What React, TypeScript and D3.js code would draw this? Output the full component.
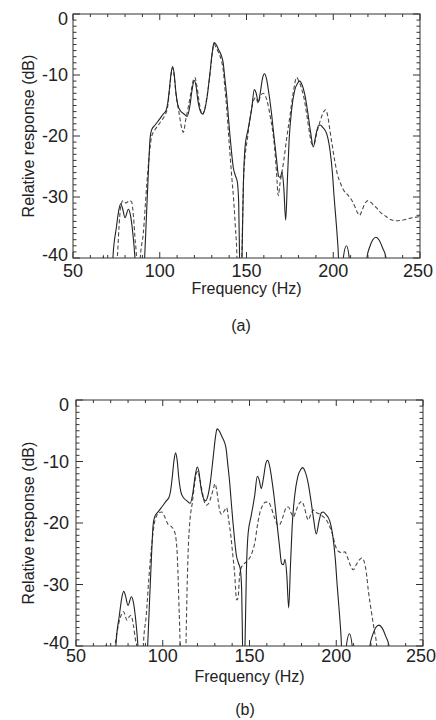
import React, { useEffect, useRef } from 'react';
import * as d3 from 'd3';

// solid curve (same measured response in both panels); -48 = below the -40 floor (clipped)
const solidFreq = [66, 67.5, 69, 72, 73, 75, 76.5, 77.5, 78.5, 80, 81.9, 83, 84.5, 85.7, 87, 90, 91.3, 92.5, 93.5, 94.4, 95.3, 97.3, 100, 102, 103.5, 104.5, 105.5, 106.5, 107.4, 108.3, 109.3, 110.5, 112, 114, 115.8, 117.3, 118.6, 119.9, 120.8, 122, 123.5, 124.7, 126, 127.5, 129, 130.3, 131.3, 132.5, 134, 135.5, 136.5, 137.5, 138.6, 139.6, 140.5, 141.5, 142.4, 143.6, 144.7, 145.5, 146, 146.4, 147, 147.4, 148.2, 149.2, 151, 153, 154.5, 155.5, 156.8, 158, 159.4, 160.4, 161.5, 163, 164.5, 166, 167.3, 168.5, 169.5, 170.5, 171.5, 172.6, 173.6, 174.6, 176, 177.8, 179.5, 180.6, 182, 183.8, 185.5, 187, 188.5, 190, 191.5, 192.5, 194, 196.2, 198.1, 199.5, 200.5, 201.5, 202.3, 203, 203.6, 205, 205.8, 207.6, 209.2, 209.8, 218.5, 219.4, 221, 222.8, 224.6, 226.5, 228.5, 230.4, 231, 250];
const solidDb = [-48, -39.5, -48, -48, -40, -35, -32, -31.1, -31.8, -33.4, -32.0, -32.8, -36, -40, -48, -48, -40, -32, -25.5, -20.5, -19.0, -18.2, -17.2, -16.4, -15.9, -14.8, -12.5, -9.8, -8.6, -9.8, -12.8, -15.0, -15.9, -16.4, -16.8, -15.2, -12.5, -10.9, -11.6, -14.2, -16.0, -16.4, -15.6, -13.2, -9.5, -6.2, -4.7, -5.0, -5.9, -6.8, -7.9, -10.5, -13.5, -17, -20, -23, -25.2, -26.5, -27.5, -31, -40, -48, -48, -40, -28, -21.7, -18.8, -15.5, -12.4, -12.9, -14.4, -12.8, -10.3, -9.8, -10.6, -13.2, -16.5, -20.5, -23.8, -26.6, -26.8, -25.9, -28.5, -33.8, -27, -20.5, -15.7, -12.5, -11.3, -11.0, -11.6, -13.5, -16.5, -19.5, -21.8, -19.8, -18.3, -18.2, -18.6, -19.6, -22.3, -26, -30, -33.5, -36.5, -40, -48, -48, -40, -38.0, -40, -48, -48, -40, -38.2, -37.0, -36.6, -37.1, -38.4, -40, -48, -48];

// dashed curve, panel (a)
const dashAFreq = [70, 75.5, 76.5, 77.5, 78.8, 80.5, 82.5, 83.8, 84.8, 85.8, 86.6, 87.2, 88, 88.8, 90.5, 92.5, 94, 95.4, 97, 99.2, 101, 103, 104.5, 105.5, 106.5, 107.4, 108.3, 109.5, 111, 112.5, 113.6, 115, 116.5, 118, 119.3, 120.3, 121.3, 122.8, 124.5, 126, 127.5, 129, 130.3, 131.3, 132.5, 134, 135.5, 136.5, 137.5, 138.6, 139.6, 140.5, 141.6, 142.6, 143.6, 144.5, 145, 146.6, 147.3, 148.2, 149.3, 150.5, 152, 153.8, 155.3, 156.8, 158, 159.7, 161, 162.5, 163.8, 165, 166.2, 167.3, 168.3, 169.4, 170.4, 171.5, 173, 175, 177, 178.9, 180, 181.5, 183, 185, 186.5, 187.8, 189, 190.5, 192.5, 194.5, 195.6, 196.8, 198.2, 199.5, 201, 202.5, 204, 206, 208.5, 210.6, 212.5, 214, 215.2, 216.6, 218, 220, 222.5, 225, 227.5, 230.5, 233, 236, 240, 244, 248, 250];
const dashADb = [-48, -40, -35, -31.5, -30.6, -31.0, -30.6, -30.8, -33, -37, -40, -48, -48, -40, -36, -28, -23, -20, -19.1, -18.2, -17.5, -16.6, -15.3, -12.8, -10, -8.8, -10.2, -13.5, -16, -18.5, -19.4, -17.3, -15.2, -12.8, -10.9, -10.4, -11.6, -14.6, -16.5, -15.5, -13, -9.8, -6.4, -4.9, -5.5, -6.4, -7.6, -9, -12, -15.5, -19.5, -23, -27, -30.5, -35, -40, -48, -48, -40, -28, -23, -20.5, -17.2, -14.4, -13.7, -14.6, -13.4, -13.0, -13.5, -15, -17, -19, -22, -26, -29.8, -27.6, -26, -24, -20.7, -16.8, -12.8, -10.4, -10.9, -12.0, -13.6, -17, -19.8, -21.4, -21.3, -19.5, -17.5, -16.0, -15.7, -16.7, -19.3, -21.7, -24.3, -26.4, -27.6, -28.9, -29.7, -30.5, -31.6, -32.6, -33.0, -32.2, -31.2, -30.6, -31.1, -31.8, -32.6, -33.2, -33.7, -33.9, -33.8, -33.5, -33.3, -33.2];

// dashed curve, panel (b)
const dashBFreq = [70, 72.5, 74.5, 76, 77.3, 78.3, 79.3, 80.5, 81.7, 83, 84.3, 85, 85.5, 88, 88.8, 90.5, 92, 93.5, 95, 96.5, 98, 99.4, 101, 103, 105, 106.5, 107.6, 108.5, 109.3, 110, 110.4, 113, 113.4, 114, 114.6, 115.7, 117, 118.3, 119.5, 120.3, 121.3, 122.8, 124, 125.3, 126.5, 128, 129.3, 130.1, 131, 132, 133, 134, 135.5, 136.8, 138, 139.2, 140.3, 141.3, 142.6, 143.4, 144.3, 145.5, 147, 149.3, 151.5, 153.2, 154.5, 156, 157.5, 159.2, 160.9, 162.5, 164.5, 166.6, 167.6, 169.5, 171.4, 172.5, 174, 175.3, 176.8, 178.5, 180.1, 181.5, 183, 183.9, 185.3, 186.8, 188.5, 190.5, 192.6, 194.5, 196.3, 198, 199.5, 201.2, 203, 205, 206.5, 208, 209.8, 211.5, 213.3, 214.7, 216, 217.3, 218.5, 220.4, 222, 223.3, 224, 250];
const dashBDb = [-48, -40, -36.5, -35, -34.4, -35, -35.8, -35.3, -35.0, -36.5, -39, -40, -48, -48, -40, -35, -29, -24, -20.3, -18.8, -18.3, -18.2, -18.9, -20.2, -20.6, -21.2, -22.5, -26, -33, -40, -48, -48, -40, -31, -25, -19.5, -16.8, -13.8, -11.8, -11.6, -12.8, -15, -16.6, -17.1, -16.8, -15.6, -14.3, -13.6, -14.5, -16.5, -18.2, -18.6, -18.0, -17.5, -19.5, -22, -25, -27.8, -32.5, -32.2, -28.5, -27.1, -26.6, -26.0, -24.8, -23, -20.5, -18.3, -17.2, -16.6, -16.6, -17.5, -19.2, -20.4, -20.2, -18.8, -17.4, -17.4, -18.4, -19.0, -18, -16.9, -16.5, -17.3, -19, -19.5, -18.6, -17.9, -18.3, -18.6, -19.0, -19.6, -20.6, -22, -23.7, -24.6, -24.8, -24.7, -25.6, -26.8, -27.6, -26.8, -26.0, -25.7, -26.2, -28.0, -31, -34.7, -37.6, -40, -48, -48];

const xTicks = [50, 100, 150, 200, 250];
const yTicks = [0, -10, -20, -30, -40];
const xTitle = 'Frequency (Hz)';
const yTitle = 'Relative response (dB)';

const FONT = "'Liberation Sans', Arial, Helvetica, sans-serif";

const panels = [
  { id: 'a', caption: '(a)', dashFreq: dashAFreq, dashDb: dashADb, left: 73, right: 420, top: 14, bottom: 258, yLabelGap: 5, xLabelY: 277, titleY: 294, captionX: 241, captionY: 331 },
  { id: 'b', caption: '(b)', dashFreq: dashBFreq, dashDb: dashBDb, left: 76, right: 423, top: 400, bottom: 646, yLabelGap: 7, xLabelY: 662, titleY: 682, captionX: 245, captionY: 715 },
];

const App = () => {
  const svgRef = useRef(null);

  useEffect(() => {
    const svg = d3.select(svgRef.current);
    svg.selectAll('*').remove();
    svg.append('rect').attr('width', 436).attr('height', 720).attr('fill', '#fff');

    panels.forEach(p => {
      const x = d3.scaleLinear().domain([50, 250]).range([p.left, p.right]);
      const y = d3.scaleLinear().domain([-40, 0]).range([p.bottom, p.top]);
      const g = svg.append('g');

      g.append('clipPath').attr('id', 'clip-' + p.id)
        .append('rect')
        .attr('x', p.left).attr('y', p.top)
        .attr('width', p.right - p.left).attr('height', p.bottom - p.top);

      const line = d3.line<[number, number]>()
        .x(d => x(d[0]))
        .y(d => y(d[1]))
        .curve(d3.curveMonotoneX);

      const solid = solidFreq.map((f, i) => [f, solidDb[i]] as [number, number]);
      const dashed = p.dashFreq.map((f, i) => [f, p.dashDb[i]] as [number, number]);

      g.append('path')
        .attr('d', line(dashed))
        .attr('fill', 'none')
        .attr('stroke', '#4a4a4a')
        .attr('stroke-width', 1.1)
        .attr('stroke-dasharray', '4,2.5')
        .attr('clip-path', `url(#clip-${p.id})`);

      g.append('path')
        .attr('d', line(solid))
        .attr('fill', 'none')
        .attr('stroke', '#222')
        .attr('stroke-width', 1.1)
        .attr('clip-path', `url(#clip-${p.id})`);

      // frame
      g.append('rect')
        .attr('x', p.left).attr('y', p.top)
        .attr('width', p.right - p.left).attr('height', p.bottom - p.top)
        .attr('fill', 'none').attr('stroke', '#333').attr('stroke-width', 1);

      // ticks on all four sides, pointing in
      d3.range(50, 251, 10).forEach(f => {
        const len = f % 50 === 0 ? 6 : 3;
        g.append('line').attr('x1', x(f)).attr('x2', x(f))
          .attr('y1', p.bottom).attr('y2', p.bottom - len)
          .attr('stroke', '#333');
        g.append('line').attr('x1', x(f)).attr('x2', x(f))
          .attr('y1', p.top).attr('y2', p.top + len)
          .attr('stroke', '#333');
      });
      d3.range(-40, 1, 1).forEach(v => {
        const len = v % 10 === 0 ? 7 : 3.5;
        g.append('line').attr('x1', p.left).attr('x2', p.left + len)
          .attr('y1', y(v)).attr('y2', y(v)).attr('stroke', '#333');
        g.append('line').attr('x1', p.right).attr('x2', p.right - len)
          .attr('y1', y(v)).attr('y2', y(v)).attr('stroke', '#333');
      });

      // tick labels
      xTicks.forEach(t => {
        const shift = t === 250 ? -2 : 0;
        g.append('text')
          .attr('x', x(t) + shift).attr('y', p.xLabelY)
          .attr('text-anchor', 'middle')
          .attr('font-family', FONT).attr('font-size', '18px').attr('fill', '#222')
          .text(t);
      });
      yTicks.forEach(t => {
        const shift = t === 0 ? 5 : t === -40 ? -3 : 0;
        g.append('text')
          .attr('x', p.left - p.yLabelGap).attr('y', y(t) + shift)
          .attr('dy', '0.35em')
          .attr('text-anchor', 'end')
          .attr('font-family', FONT).attr('font-size', '18px').attr('fill', '#222')
          .text(t);
      });

      // axis titles
      g.append('text')
        .attr('x', (p.left + p.right) / 2).attr('y', p.titleY)
        .attr('text-anchor', 'middle')
        .attr('font-family', FONT).attr('font-size', '16px').attr('fill', '#222')
        .text(xTitle);
      g.append('text')
        .attr('transform', `translate(34, ${(p.top + p.bottom) / 2}) rotate(-90)`)
        .attr('text-anchor', 'middle')
        .attr('font-family', FONT).attr('font-size', '16px').attr('fill', '#222')
        .text(yTitle);

      g.append('text')
        .attr('x', p.captionX).attr('y', p.captionY)
        .attr('text-anchor', 'middle')
        .attr('font-family', FONT).attr('font-size', '16px').attr('fill', '#222')
        .text(p.caption);
    });
  }, []);

  return (
    <svg ref={svgRef} width={436} height={720}
      style={{ position: 'absolute', left: 0, top: 0, display: 'block' }} />
  );
};

export default App;
